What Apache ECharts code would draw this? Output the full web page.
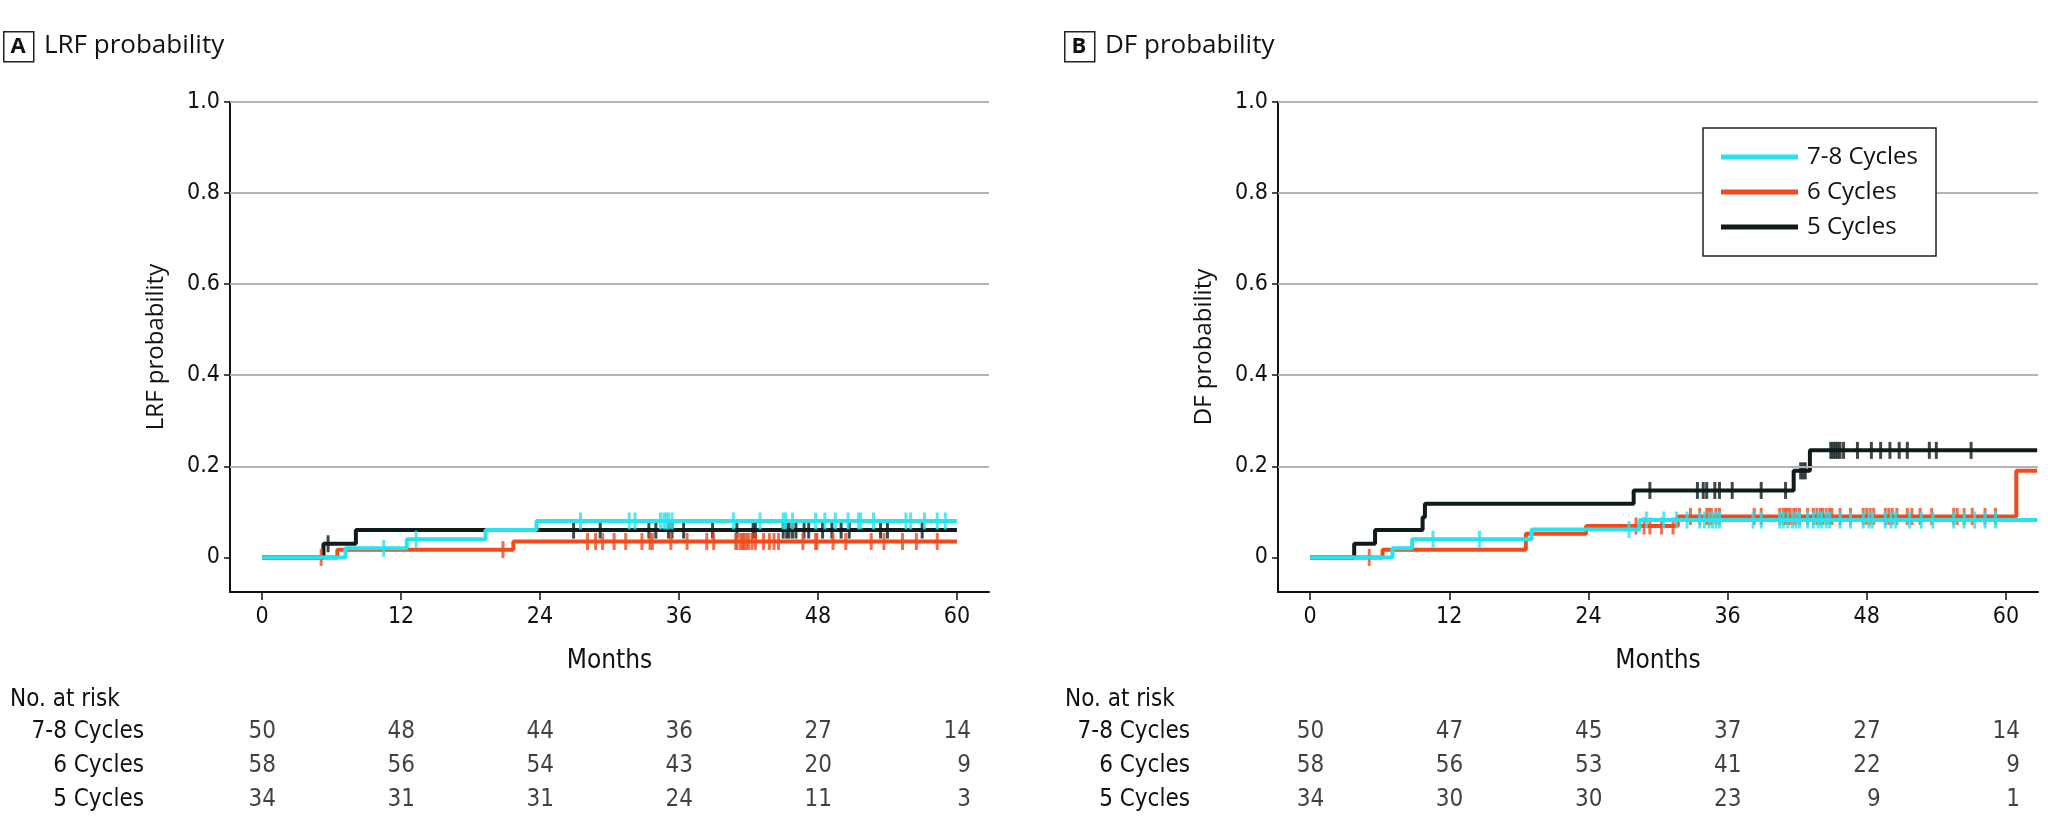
<!DOCTYPE html>
<html><head><meta charset="utf-8">
<script src="https://cdn.jsdelivr.net/npm/echarts@6/dist/echarts.min.js"></script>
<style>html,body{margin:0;padding:0;background:#fff}#c{width:2048px;height:838px}</style>
</head><body><div id="c"></div>
<script>
// ---------- data ----------
const monthTicks = [0, 12, 24, 36, 48, 60];
const probTicks = [0, 0.2, 0.4, 0.6, 0.8, 1.0];
const gridValues = [0.2, 0.4, 0.6, 0.8, 1.0];
const groups = ['7-8 Cycles', '6 Cycles', '5 Cycles'];

// Panel A: LRF probability (step points [month, probability])
const lrf78 = [[0,0],[7.2,0.02],[12.5,0.04],[19.3,0.06],[23.7,0.08],[60,0.08]];
const lrf6  = [[0,0],[6.5,0.017],[21.7,0.035],[60,0.035]];
const lrf5  = [[0,0],[5.3,0.03],[8.1,0.06],[60,0.06]];
const lrf78Censor = [10.5,13.3,27.5,31.7,32.2,34.4,34.7,34.9,35.1,35.4,40.7,43.0,45.0,45.2,45.8,47.8,48.6,49.5,50.6,51.5,51.7,52.8,55.6,56.0,57.2,58.3,59.0];
const lrf6Censor  = [5.1,20.8,28.1,28.8,29.4,30.4,31.4,32.8,33.5,33.7,35.3,36.7,38.4,39.0,40.9,41.0,41.3,41.5,41.6,41.8,42.0,42.3,42.6,43.3,43.8,44.2,44.6,46.7,47.8,47.9,49.3,50.4,52.6,53.7,55.3,56.5,58.3];
const lrf5Censor  = [5.7,26.9,29.2,33.4,34.0,35.1,35.4,36.4,38.9,41.0,42.4,42.6,45.0,45.3,45.5,45.8,46.1,46.8,47.2,48.4,49.2,50.0,50.7,53.4,54.0,57.0];

// Panel B: DF probability
const df78 = [[0,0],[7.1,0.02],[8.8,0.04],[19.1,0.061],[28.4,0.082],[62.7,0.082]];
const df6  = [[0,0],[6.25,0.017],[18.6,0.052],[23.8,0.069],[31.7,0.09],[60.9,0.19],[62.7,0.19]];
const df5  = [[0,0],[3.8,0.03],[5.6,0.06],[9.7,0.088],[9.9,0.118],[27.9,0.147],[41.7,0.19],[43.1,0.235],[62.7,0.235]];
const df78Censor = [10.6,14.6,27.5,29.0,30.5,31.6,32.5,33.6,34.0,34.4,34.7,35.0,35.3,38.2,38.9,40.5,40.8,41.2,41.6,41.9,42.2,42.9,43.4,43.8,44.1,44.5,44.8,45.7,46.6,47.7,48.2,48.5,49.6,50.1,50.5,51.7,52.7,53.7,55.5,56.4,57.3,58.2,59.1];
const df6Censor  = [5.1,28.1,28.8,29.3,30.3,31.3,32.8,33.6,34.2,34.4,34.6,35.0,35.3,38.3,38.9,40.5,40.8,41.0,41.2,41.4,41.7,41.9,42.2,42.9,43.4,43.7,44.0,44.2,44.5,44.8,45.0,45.7,46.6,47.7,48.0,48.3,48.6,49.6,49.9,50.2,50.6,51.5,51.9,52.6,53.6,55.5,55.8,56.4,57.1,58.2,59.1];
const df5Censor  = [29.3,33.4,33.9,34.2,34.9,35.3,36.4,38.9,41.0,42.3,42.5,42.7,44.9,45.1,45.3,45.5,45.7,46.0,47.2,48.4,49.2,50.0,50.8,51.5,53.4,54.0,57.0];

// Numbers at risk
const riskA78 = [50,48,44,36,27,14];
const riskA6  = [58,56,54,43,20,9];
const riskA5  = [34,31,31,24,11,3];
const riskB78 = [50,47,45,37,27,14];
const riskB6  = [58,56,53,41,22,9];
const riskB5  = [34,30,30,23,9,1];

// ---------- styling ----------
const colors = {'7-8 Cycles':'#27e3ee','6 Cycles':'#f24a1b','5 Cycles':'#0f1c1c'};
const condFont = "'DejaVu Sans Condensed','Roboto Condensed',sans-serif";
const mainFont = "'Open Sans','Noto Sans',sans-serif";
const ink = '#111';

function levelAt(steps, t){ let v = 0; for (const [x,y] of steps){ if (x <= t) v = y; } return v; }

const chart = echarts.init(document.getElementById('c'), null, {renderer:'canvas'});

const plotGrids = [
  {left:230, top:102, width:759, height:490},
  {left:1278, top:102, width:760, height:490}
];
const riskGrids = [
  {left:230, top:715, width:759, height:102},
  {left:1278, top:715, width:760, height:102}
];

function plotX(gi){
  return {type:'value', gridIndex:gi, min:-2.77, max:62.77,
    axisLine:{show:true, onZero:false, lineStyle:{color:ink, width:2}},
    axisTick:{show:true, customValues:monthTicks, length:8, lineStyle:{color:ink, width:1.5}},
    axisLabel:{show:true, customValues:monthTicks, fontFamily:condFont, fontSize:23, color:ink, margin:14},
    splitLine:{show:false},
    name:'Months', nameLocation:'middle', nameGap:56,
    nameTextStyle:{fontFamily:condFont, fontSize:26, color:ink}};
}
function plotY(gi, name){
  return {type:'value', gridIndex:gi, min:-0.076, max:1,
    axisLine:{show:true, onZero:false, lineStyle:{color:ink, width:2}},
    axisTick:{show:true, customValues:probTicks, length:6, lineStyle:{color:ink, width:1.5}},
    axisLabel:{show:true, customValues:probTicks, fontFamily:condFont, fontSize:23, color:ink, margin:10,
      formatter: v => (Math.abs(v) < 1e-9 ? '0' : v.toFixed(1))},
    splitLine:{show:false},
    name:name, nameLocation:'middle', nameGap:62,
    nameTextStyle:{fontFamily:mainFont, fontSize:24, color:ink}};
}
function riskX(gi){
  return {type:'value', gridIndex:gi, min:-2.77, max:62.77, show:false};
}
function riskY(gi, margin){
  return {type:'category', gridIndex:gi, data:groups, inverse:true,
    axisLine:{show:false}, axisTick:{show:false}, splitLine:{show:false},
    axisLabel:{fontFamily:condFont, fontSize:24, color:ink, margin:margin, align:'right'}};
}

const series = [];
function addPanel(idx, curves){
  // gridlines
  series.push({type:'line', name:'grid'+idx, xAxisIndex:idx, yAxisIndex:idx, data:[], z:1, silent:true,
    markLine:{silent:true, symbol:'none', label:{show:false}, animation:false,
      lineStyle:{color:'#b3b3b3', width:2, type:'solid'},
      data:gridValues.map(v => ({yAxis:v}))}});
  curves.forEach((c, k) => {
    const z = 3 + k;
    series.push({type:'line', name:c.name, xAxisIndex:idx, yAxisIndex:idx, step:'end',
      data:c.steps, showSymbol:false, symbol:'none', z:z, silent:true,
      lineStyle:{color:colors[c.name], width:4}, itemStyle:{color:colors[c.name]}});
    series.push({type:'scatter', name:c.name+' censored '+idx, xAxisIndex:idx, yAxisIndex:idx,
      data:c.censor.map(t => [t, levelAt(c.steps, t)]), symbol:'rect', symbolSize:[3,17], z:z, silent:true,
      itemStyle:{color:colors[c.name]}});
  });
}
addPanel(0, [
  {name:'5 Cycles', steps:lrf5, censor:lrf5Censor},
  {name:'6 Cycles', steps:lrf6, censor:lrf6Censor},
  {name:'7-8 Cycles', steps:lrf78, censor:lrf78Censor}
]);
addPanel(1, [
  {name:'5 Cycles', steps:df5, censor:df5Censor},
  {name:'6 Cycles', steps:df6, censor:df6Censor},
  {name:'7-8 Cycles', steps:df78, censor:df78Censor}
]);

function addRisk(idx, rows){
  const data = [];
  rows.forEach((vals, r) => vals.forEach((v, i) => data.push([monthTicks[i], groups[r], v])));
  series.push({type:'scatter', name:'risk'+idx, xAxisIndex:idx, yAxisIndex:idx, data:data,
    symbolSize:1, itemStyle:{color:'rgba(0,0,0,0)'}, silent:true,
    label:{show:true, position:'inside', align:'right', verticalAlign:'middle', offset:[14,0],
      formatter:p => String(p.value[2]), fontFamily:condFont, fontSize:24, color:ink}});
}
addRisk(2, [riskA78, riskA6, riskA5]);
addRisk(3, [riskB78, riskB6, riskB5]);

function panelLabel(x, letter, title){
  return [
    {type:'rect', left:x, top:31, shape:{width:30, height:30}, style:{fill:'#fff', stroke:'#222', lineWidth:1.5}},
    {type:'text', x:x+15, y:46.5, style:{text:letter, font:"bold 22px 'Open Sans'", fill:ink, textAlign:'center', textVerticalAlign:'middle'}},
    {type:'text', x:x+41, y:46, style:{text:title, font:"26px 'Open Sans'", fill:ink, textAlign:'left', textVerticalAlign:'middle'}}
  ];
}

chart.setOption({
  animation:false,
  backgroundColor:'#fff',
  grid:[...plotGrids, ...riskGrids],
  xAxis:[plotX(0), plotX(1), riskX(2), riskX(3)],
  yAxis:[plotY(0,'LRF probability'), plotY(1,'DF probability'), riskY(2,86), riskY(3,88)],
  legend:{show:true, orient:'vertical', left:1703, top:128, data:groups, icon:'rect', z:50,
    itemWidth:77, itemHeight:5, itemGap:11, padding:[17,18,17,18], selectedMode:false,
    borderColor:'#222', borderWidth:1.5, backgroundColor:'#fff',
    textStyle:{fontFamily:mainFont, fontSize:24, color:ink, lineHeight:24, padding:[0,0,0,4]}},
  graphic:[
    ...panelLabel(3, 'A', 'LRF probability'),
    ...panelLabel(1064, 'B', 'DF probability'),
    {type:'text', x:10, y:700, style:{text:'No. at risk', font:"24px 'DejaVu Sans Condensed','Roboto Condensed',sans-serif", fill:ink, textAlign:'left', textVerticalAlign:'middle'}},
    {type:'text', x:1065, y:700, style:{text:'No. at risk', font:"24px 'DejaVu Sans Condensed','Roboto Condensed',sans-serif", fill:ink, textAlign:'left', textVerticalAlign:'middle'}}
  ],
  series:series
});
</script></body></html>
